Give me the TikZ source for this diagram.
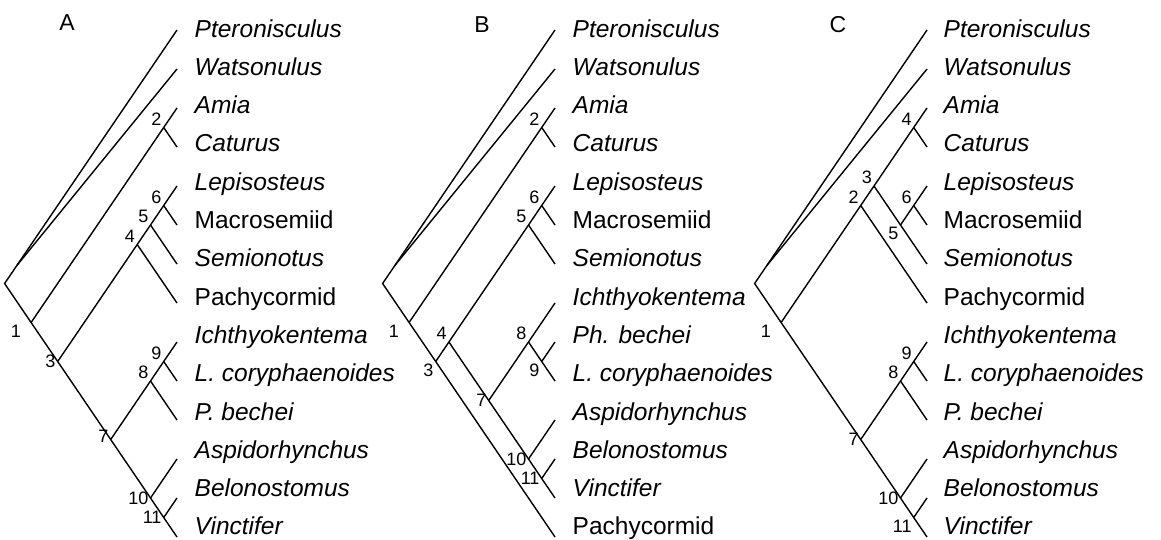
\documentclass[tikz,border=0pt]{standalone}
\usepackage{fontspec}
\setmainfont{Liberation Sans}
\usetikzlibrary{calc}

\begin{document}
\begin{tikzpicture}[x=1pt,y=-1pt,line width=1.4pt,
  taxon/.style={anchor=base west,inner sep=0pt,font=\fontsize{24.5}{28}\selectfont\itshape},
  plain/.style={anchor=base west,inner sep=0pt,font=\fontsize{24.5}{28}\selectfont},
  num/.style={inner sep=1.5pt,font=\fontsize{18}{20}\selectfont},
  panel/.style={font=\fontsize{23}{26}\selectfont}]
  \useasboundingbox (0,0) rectangle (1161,539);

  % A
  \begin{scope}[xshift=4pt]
    \node[panel] (aTag) at (63,23) {A};
    \coordinate (aRoot) at (0.6,283.5);
    \coordinate (a0) at (173,30);
    \coordinate (a1) at (173,69);
    \coordinate (a2) at (173,108);
    \coordinate (a3) at (173,147);
    \coordinate (a4) at (173,186);
    \coordinate (a5) at (173,225);
    \coordinate (a6) at (173,264);
    \coordinate (a7) at (173,303);
    \coordinate (a8) at (173,342);
    \coordinate (a9) at (173,381);
    \coordinate (a10) at (173,420);
    \coordinate (a11) at (173,459);
    \coordinate (a12) at (173,498);
    \coordinate (a13) at (173,537);
    \coordinate (aW) at ($(aRoot)!0.07!(a0)$);
    \coordinate (aN1) at (27.1,322.5);
    \coordinate (aN2) at (159.7,127.5);
    \coordinate (aN3) at (53.7,361.5);
    \coordinate (aN4) at (133.2,244.5);
    \coordinate (aN5) at (146.5,225);
    \coordinate (aN6) at (159.7,205.5);
    \coordinate (aN7) at (106.7,439.5);
    \coordinate (aN8) at (146.5,381);
    \coordinate (aN9) at (159.7,361.5);
    \coordinate (aN10) at (146.5,498);
    \coordinate (aN11) at (159.7,517.5);

    \node[taxon] (aT0) at (190,37) {Pteronisculus};
    \node[taxon] (aT1) at (190,75.3) {Watsonulus};
    \node[taxon] (aT2) at (190,113.6) {Amia};
    \node[taxon] (aT3) at (190,151.9) {Caturus};
    \node[taxon] (aT4) at (190,190.2) {Lepisosteus};
    \node[plain] (aT5) at (190,228.5) {Macrosemiid};
    \node[taxon] (aT6) at (190,266.8) {Semionotus};
    \node[plain] (aT7) at (190,305.1) {Pachycormid};
    \node[taxon] (aT8) at (190,343.4) {Ichthyokentema};
    \node[taxon] (aT9) at (190,381.7) {L. coryphaenoides};
    \node[taxon] (aT10) at (190,420) {P. bechei};
    \node[taxon] (aT11) at (190,458.3) {Aspidorhynchus};
    \node[taxon] (aT12) at (190,496.6) {Belonostomus};
    \node[taxon] (aT13) at (190,534.9) {Vinctifer};

    \draw (a0) -- (aRoot) -- (aN1) -- (aN3) -- (aN7) -- (aN10) -- (aN11) -- (a13);
    \draw (aW) -- (a1);
    \draw (aN1) -- (aN2) -- (a2);
    \draw (aN2) -- (a3);
    \draw (aN3) -- (aN4) -- (aN5) -- (aN6) -- (a4);
    \draw (aN6) -- (a5);
    \draw (aN5) -- (a6);
    \draw (aN4) -- (a7);
    \draw (aN7) -- (aN8) -- (aN9) -- (a8);
    \draw (aN9) -- (a9);
    \draw (aN8) -- (a10);
    \draw (aN10) -- (a11);
    \draw (aN11) -- (a12);

    \node[num,below left,xshift=-8pt] (aL1) at (aN1) {1};
    \node[num,above left] (aL2) at (aN2) {2};
    \node[num,left] (aL3) at (aN3) {3};
    \node[num,above left] (aL4) at (aN4) {4};
    \node[num,above left] (aL5) at (aN5) {5};
    \node[num,above left] (aL6) at (aN6) {6};
    \node[num,left,yshift=3pt] (aL7) at (aN7) {7};
    \node[num,above left] (aL8) at (aN8) {8};
    \node[num,above left] (aL9) at (aN9) {9};
    \node[num,left] (aL10) at (aN10) {10};
    \node[num,left] (aL11) at (aN11) {11};
  \end{scope}

  % B
  \begin{scope}[xshift=382pt]
    \node[panel] (bTag) at (100,25) {B};
    \coordinate (bRoot) at (0.6,283.5);
    \coordinate (b0) at (173,30);
    \coordinate (b1) at (173,69);
    \coordinate (b2) at (173,108);
    \coordinate (b3) at (173,147);
    \coordinate (b4) at (173,186);
    \coordinate (b5) at (173,225);
    \coordinate (b6) at (173,264);
    \coordinate (b7) at (173,303);
    \coordinate (b8) at (173,342);
    \coordinate (b9) at (173,381);
    \coordinate (b10) at (173,420);
    \coordinate (b11) at (173,459);
    \coordinate (b12) at (173,498);
    \coordinate (b13) at (173,537);
    \coordinate (bW) at ($(bRoot)!0.07!(b0)$);
    \coordinate (bN1) at (27.1,322.5);
    \coordinate (bN2) at (159.7,127.5);
    \coordinate (bN3) at (53.7,361.5);
    \coordinate (bN4) at (66.9,342);
    \coordinate (bN5) at (146.5,225);
    \coordinate (bN6) at (159.7,205.5);
    \coordinate (bN7) at (106.7,400.5);
    \coordinate (bN8) at (146.5,342);
    \coordinate (bN9) at (159.7,361.5);
    \coordinate (bN10) at (146.5,459);
    \coordinate (bN11) at (159.7,478.5);

    \node[taxon] (bT0) at (190,37) {Pteronisculus};
    \node[taxon] (bT1) at (190,75.3) {Watsonulus};
    \node[taxon] (bT2) at (190,113.6) {Amia};
    \node[taxon] (bT3) at (190,151.9) {Caturus};
    \node[taxon] (bT4) at (190,190.2) {Lepisosteus};
    \node[plain] (bT5) at (190,228.5) {Macrosemiid};
    \node[taxon] (bT6) at (190,266.8) {Semionotus};
    \node[taxon] (bT7) at (190,305.1) {Ichthyokentema};
    \node[taxon] (bT8) at (190,343.4) {Ph. bechei};
    \node[taxon] (bT9) at (190,381.7) {L. coryphaenoides};
    \node[taxon] (bT10) at (190,420) {Aspidorhynchus};
    \node[taxon] (bT11) at (190,458.3) {Belonostomus};
    \node[taxon] (bT12) at (190,496.6) {Vinctifer};
    \node[plain] (bT13) at (190,534.9) {Pachycormid};

    \draw (b0) -- (bRoot) -- (bN1) -- (bN3) -- (b13);
    \draw (bW) -- (b1);
    \draw (bN1) -- (bN2) -- (b2);
    \draw (bN2) -- (b3);
    \draw (bN3) -- (bN4) -- (bN5) -- (bN6) -- (b4);
    \draw (bN6) -- (b5);
    \draw (bN5) -- (b6);
    \draw (bN4) -- (bN7) -- (bN10) -- (bN11) -- (b12);
    \draw (bN7) -- (bN8) -- (b7);
    \draw (bN8) -- (bN9) -- (b9);
    \draw (bN9) -- (b8);
    \draw (bN10) -- (b10);
    \draw (bN11) -- (b11);

    \node[num,below left,xshift=-8pt] (bL1) at (bN1) {1};
    \node[num,above left] (bL2) at (bN2) {2};
    \node[num,below left] (bL3) at (bN3) {3};
    \node[num,above left] (bL4) at (bN4) {4};
    \node[num,above left] (bL5) at (bN5) {5};
    \node[num,above left] (bL6) at (bN6) {6};
    \node[num,left] (bL7) at (bN7) {7};
    \node[num,above left] (bL8) at (bN8) {8};
    \node[num,below left] (bL9) at (bN9) {9};
    \node[num,left] (bL10) at (bN10) {10};
    \node[num,left] (bL11) at (bN11) {11};
  \end{scope}

  % C
  \begin{scope}[xshift=754pt]
    \node[panel] (cTag) at (84,25) {C};
    \coordinate (cRoot) at (0.6,283.5);
    \coordinate (c0) at (173,30);
    \coordinate (c1) at (173,69);
    \coordinate (c2) at (173,108);
    \coordinate (c3) at (173,147);
    \coordinate (c4) at (173,186);
    \coordinate (c5) at (173,225);
    \coordinate (c6) at (173,264);
    \coordinate (c7) at (173,303);
    \coordinate (c8) at (173,342);
    \coordinate (c9) at (173,381);
    \coordinate (c10) at (173,420);
    \coordinate (c11) at (173,459);
    \coordinate (c12) at (173,498);
    \coordinate (c13) at (173,537);
    \coordinate (cW) at ($(cRoot)!0.07!(c0)$);
    \coordinate (cN1) at (27.1,322.5);
    \coordinate (cN2) at (106.7,205.5);
    \coordinate (cN3) at (120,186);
    \coordinate (cN4) at (159.7,127.5);
    \coordinate (cN5) at (146.5,225);
    \coordinate (cN6) at (159.7,205.5);
    \coordinate (cN7) at (106.7,439.5);
    \coordinate (cN8) at (146.5,381);
    \coordinate (cN9) at (159.7,361.5);
    \coordinate (cN10) at (146.5,498);
    \coordinate (cN11) at (159.7,517.5);

    \node[taxon] (cT0) at (189,37) {Pteronisculus};
    \node[taxon] (cT1) at (189,75.3) {Watsonulus};
    \node[taxon] (cT2) at (189,113.6) {Amia};
    \node[taxon] (cT3) at (189,151.9) {Caturus};
    \node[taxon] (cT4) at (189,190.2) {Lepisosteus};
    \node[plain] (cT5) at (189,228.5) {Macrosemiid};
    \node[taxon] (cT6) at (189,266.8) {Semionotus};
    \node[plain] (cT7) at (189,305.1) {Pachycormid};
    \node[taxon] (cT8) at (189,343.4) {Ichthyokentema};
    \node[taxon] (cT9) at (189,381.7) {L. coryphaenoides};
    \node[taxon] (cT10) at (189,420) {P. bechei};
    \node[taxon] (cT11) at (189,458.3) {Aspidorhynchus};
    \node[taxon] (cT12) at (189,496.6) {Belonostomus};
    \node[taxon] (cT13) at (189,534.9) {Vinctifer};

    \draw (c0) -- (cRoot) -- (cN1) -- (cN7) -- (cN10) -- (cN11) -- (c13);
    \draw (cW) -- (c1);
    \draw (cN1) -- (cN2) -- (cN3) -- (cN4) -- (c2);
    \draw (cN4) -- (c3);
    \draw (cN2) -- (c7);
    \draw (cN3) -- (cN5) -- (c6);
    \draw (cN5) -- (cN6) -- (c4);
    \draw (cN6) -- (c5);
    \draw (cN7) -- (cN8) -- (cN9) -- (c8);
    \draw (cN9) -- (c9);
    \draw (cN8) -- (c10);
    \draw (cN10) -- (c11);
    \draw (cN11) -- (c12);

    \node[num,below left,xshift=-8pt] (cL1) at (cN1) {1};
    \node[num,above left] (cL2) at (cN2) {2};
    \node[num,above left] (cL3) at (cN3) {3};
    \node[num,above left] (cL4) at (cN4) {4};
    \node[num,below left] (cL5) at (cN5) {5};
    \node[num,above left] (cL6) at (cN6) {6};
    \node[num,left] (cL7) at (cN7) {7};
    \node[num,above left] (cL8) at (cN8) {8};
    \node[num,above left] (cL9) at (cN9) {9};
    \node[num,left] (cL10) at (cN10) {10};
    \node[num,below left] (cL11) at (cN11) {11};
  \end{scope}
\end{tikzpicture}
\end{document}
